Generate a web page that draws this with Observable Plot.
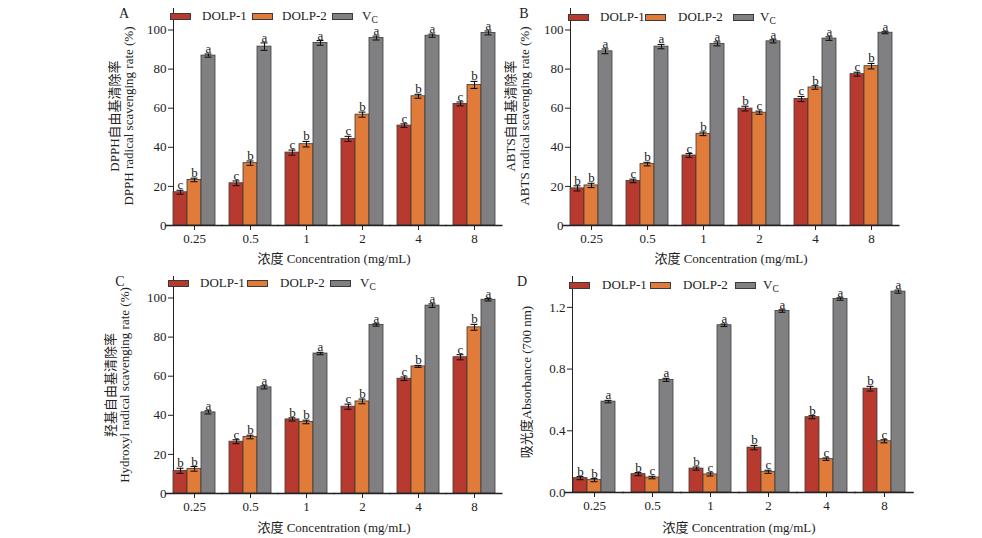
<!DOCTYPE html>
<html><head><meta charset="utf-8">
<script src="https://cdn.jsdelivr.net/npm/d3@7"></script>
<script src="https://cdn.jsdelivr.net/npm/@observablehq/plot@0.6"></script>
<style>
body{margin:0;background:#fff;}
#root{position:relative;width:982px;height:538px;overflow:hidden;font-family:"Liberation Serif","Noto Sans CJK SC",serif;color:#222;}
.sw{position:absolute;width:21px;height:7px;box-sizing:border-box;border:0.8px solid #3a3a3a;}
.lt{position:absolute;font-size:13px;line-height:13px;white-space:nowrap;}
.lt sub{font-size:9.5px;vertical-align:-3px;line-height:0;}
.ytitle{position:absolute;font-size:13px;line-height:14px;white-space:nowrap;text-align:center;transform:translate(-50%,-50%) rotate(-90deg);}
.xtitle{position:absolute;font-size:13px;white-space:nowrap;transform:translate(-50%,-50%);}
.plab{position:absolute;font-size:14px;transform:translate(-50%,-50%);}
</style>
</head><body><div id="root"></div>
<script>
// ---------- data ----------
const concentrations = ["0.25", "0.5", "1", "2", "4", "8"];
const series = ["DOLP-1", "DOLP-2", "VC"];
const colors = ["#b83a2f", "#e07b3a", "#808083"];

// A: DPPH
const dpph1 = [17.0, 21.6, 37.3, 44.3, 51.1, 62.2];
const dpph2 = [23.3, 31.9, 41.6, 56.7, 66.1, 71.9];
const dpphVC = [86.9, 91.5, 93.4, 95.9, 97.1, 98.5];
const dpphErr1 = [1.0, 1.2, 1.3, 1.3, 0.9, 1.0];
const dpphErr2 = [0.9, 1.1, 1.4, 1.3, 1.0, 1.8];
const dpphErrVC = [0.8, 1.9, 1.2, 1.0, 0.8, 1.0];
const dpphLet1 = ["c", "c", "c", "c", "c", "c"];
const dpphLet2 = ["b", "b", "b", "b", "b", "b"];
const dpphLetVC = ["a", "a", "a", "a", "a", "a"];

// B: ABTS
const abts1 = [19.0, 22.8, 35.8, 59.8, 64.7, 77.4];
const abts2 = [20.5, 31.4, 46.9, 57.7, 70.6, 81.5];
const abtsVC = [89.1, 91.5, 92.9, 94.2, 95.6, 98.6];
const abtsErr1 = [1.3, 0.9, 1.0, 1.2, 1.3, 1.0];
const abtsErr2 = [1.1, 0.9, 0.9, 0.8, 0.9, 1.4];
const abtsErrVC = [1.2, 1.1, 1.0, 0.8, 0.9, 0.5];
const abtsLet1 = ["b", "c", "c", "b", "c", "c"];
const abtsLet2 = ["b", "b", "b", "c", "b", "b"];
const abtsLetVC = ["a", "a", "a", "a", "a", "a"];

// C: Hydroxyl
const hyd1 = [11.6, 26.5, 37.9, 44.4, 58.7, 69.7];
const hyd2 = [12.6, 28.9, 36.6, 47.1, 65.0, 85.0];
const hydVC = [41.5, 54.3, 71.6, 86.2, 96.1, 99.1];
const hydErr1 = [1.3, 1.0, 0.8, 1.3, 0.9, 1.3];
const hydErr2 = [1.2, 0.9, 0.9, 1.2, 0.5, 1.5];
const hydErrVC = [0.8, 0.8, 0.6, 0.6, 0.9, 0.6];
const hydLet1 = ["b", "c", "b", "c", "c", "c"];
const hydLet2 = ["b", "b", "b", "b", "b", "b"];
const hydLetVC = ["a", "a", "a", "a", "a", "a"];

// D: Absorbance
const abs1 = [0.093, 0.119, 0.155, 0.291, 0.488, 0.673];
const abs2 = [0.080, 0.097, 0.117, 0.134, 0.216, 0.332];
const absVC = [0.589, 0.730, 1.084, 1.176, 1.254, 1.302];
const absErr1 = [0.010, 0.010, 0.010, 0.014, 0.010, 0.015];
const absErr2 = [0.010, 0.008, 0.010, 0.010, 0.008, 0.010];
const absErrVC = [0.008, 0.010, 0.008, 0.008, 0.008, 0.010];
const absLet1 = ["b", "b", "b", "b", "b", "b"];
const absLet2 = ["b", "c", "c", "c", "c", "c"];
const absLetVC = ["a", "a", "a", "a", "a", "a"];

const yTicksPct = [0, 20, 40, 60, 80, 100];
const yTicksAbs = [0, 0.4, 0.8, 1.2];

// ---------- layout ----------
const padInner = 0.25, padOuter = 0.125;
const panels = [
  {id: "A", left: 100, top: 0, width: 410, height: 268, mL: 66, mR: 8, mT: 8, mB: 43,
   vals: [dpph1, dpph2, dpphVC], errs: [dpphErr1, dpphErr2, dpphErrVC], lets: [dpphLet1, dpphLet2, dpphLetVC],
   ydom: [0, 111], ticks: yTicksPct, fmt: d3.format("d"),
   ytitle: "DPPH自由基清除率<br>DPPH radical scavenging rate (%)", ytx: 121.5, yty: 116,
   xtx: 334, xty: 257, plx: 124, ply: 14,
   leg: [170, 202, 252, 282, 332, 362], legy: 16},
  {id: "B", left: 490, top: 0, width: 420, height: 268, mL: 73, mR: 11, mT: 8, mB: 43,
   vals: [abts1, abts2, abtsVC], errs: [abtsErr1, abtsErr2, abtsErrVC], lets: [abtsLet1, abtsLet2, abtsLetVC],
   ydom: [0, 111], ticks: yTicksPct, fmt: d3.format("d"),
   ytitle: "ABTS自由基清除率<br>ABTS radical scavenging rate (%)", ytx: 518, yty: 116,
   xtx: 731, xty: 257, plx: 524, ply: 14,
   leg: [568, 600, 645, 678, 733, 760], legy: 17},
  {id: "C", left: 100, top: 268, width: 410, height: 270, mL: 66, mR: 8, mT: 8, mB: 45,
   vals: [hyd1, hyd2, hydVC], errs: [hydErr1, hydErr2, hydErrVC], lets: [hydLet1, hydLet2, hydLetVC],
   ydom: [0, 111], ticks: yTicksPct, fmt: d3.format("d"),
   ytitle: "羟基自由基清除率<br>Hydroxyl radical scavenging rate (%)", ytx: 118, yty: 385,
   xtx: 334, xty: 526, plx: 120, ply: 282,
   leg: [168, 200, 247, 280, 330, 360], legy: 283},
  {id: "D", left: 490, top: 268, width: 430, height: 270, mL: 74, mR: 7, mT: 8, mB: 46,
   vals: [abs1, abs2, absVC], errs: [absErr1, absErr2, absErrVC], lets: [absLet1, absLet2, absLetVC],
   ydom: [0, 1.4], ticks: yTicksAbs, fmt: d3.format(".1f"),
   ytitle: "吸光度Absorbance (700 nm)", ytx: 527, yty: 382,
   xtx: 739, xty: 526, plx: 522, ply: 282,
   leg: [569, 602, 650, 683, 735, 763], legy: 285}
];

const root = document.getElementById("root");
const font = '"Liberation Serif","Noto Sans CJK SC",serif';

for (const p of panels) {
  const rows = [];
  concentrations.forEach((c, i) => series.forEach((s, j) => {
    rows.push({c, s, v: p.vals[j][i], e: p.errs[j][i], l: p.lets[j][i]});
  }));
  // extend the baseline of each facet across the gaps between groups
  const step = (p.width - p.mL - p.mR) / (concentrations.length - padInner + 2 * padOuter);
  const ext = -(padOuter * step + 0.5);
  const chart = Plot.plot({
    width: p.width, height: p.height,
    marginLeft: p.mL, marginRight: p.mR, marginTop: p.mT, marginBottom: p.mB,
    style: {fontFamily: font, fontSize: "13px", color: "#222", background: "transparent", overflow: "visible"},
    fx: {domain: concentrations, paddingInner: padInner, paddingOuter: padOuter, label: null, axis: "bottom", tickSize: 5, tickPadding: 3},
    x: {domain: series, padding: 0, axis: null},
    y: {domain: p.ydom, ticks: p.ticks, tickFormat: p.fmt, label: null, line: true, tickSize: 5, tickPadding: 2},
    color: {domain: series, range: colors},
    marks: [
      Plot.barY(rows, {fx: "c", x: "s", y: "v", fill: "s", stroke: "#3a3a3a", strokeWidth: 0.8}),
      Plot.ruleX(rows, {fx: "c", x: "s", y1: d => d.v - d.e, y2: d => d.v + d.e, stroke: "#111", strokeWidth: 1.1}),
      Plot.tickY(rows, {fx: "c", x: "s", y: d => d.v + d.e, stroke: "#111", strokeWidth: 1.1, insetLeft: 3.5, insetRight: 3.5}),
      Plot.tickY(rows, {fx: "c", x: "s", y: d => d.v - d.e, stroke: "#111", strokeWidth: 1.1, insetLeft: 3.5, insetRight: 3.5}),
      Plot.text(rows, {fx: "c", x: "s", y: d => d.v + d.e, text: "l", lineAnchor: "bottom", dy: -1, fontSize: 13, fill: "#222"}),
      Plot.ruleY([0], {stroke: "#222", strokeWidth: 1.3, insetLeft: ext, insetRight: ext})
    ]
  });
  chart.style.position = "absolute";
  chart.style.left = p.left + "px";
  chart.style.top = p.top + "px";
  root.appendChild(chart);

  // legend
  const names = ["DOLP-1", "DOLP-2", "V<sub>C</sub>"];
  for (let k = 0; k < 3; k++) {
    const sw = document.createElement("div");
    sw.className = "sw";
    sw.style.left = p.leg[2 * k] + "px";
    sw.style.top = (p.legy - 3.5) + "px";
    sw.style.background = colors[k];
    root.appendChild(sw);
    const t = document.createElement("div");
    t.className = "lt";
    t.innerHTML = names[k];
    t.style.left = p.leg[2 * k + 1] + "px";
    t.style.top = (p.legy - 7) + "px";
    root.appendChild(t);
  }
  const yt = document.createElement("div");
  yt.className = "ytitle";
  yt.innerHTML = p.ytitle;
  yt.style.left = p.ytx + "px";
  yt.style.top = p.yty + "px";
  root.appendChild(yt);
  const xt = document.createElement("div");
  xt.className = "xtitle";
  xt.textContent = "浓度 Concentration (mg/mL)";
  xt.style.left = p.xtx + "px";
  xt.style.top = p.xty + "px";
  root.appendChild(xt);
  const pl = document.createElement("div");
  pl.className = "plab";
  pl.textContent = p.id;
  pl.style.left = p.plx + "px";
  pl.style.top = p.ply + "px";
  root.appendChild(pl);
}
</script>
</body></html>
